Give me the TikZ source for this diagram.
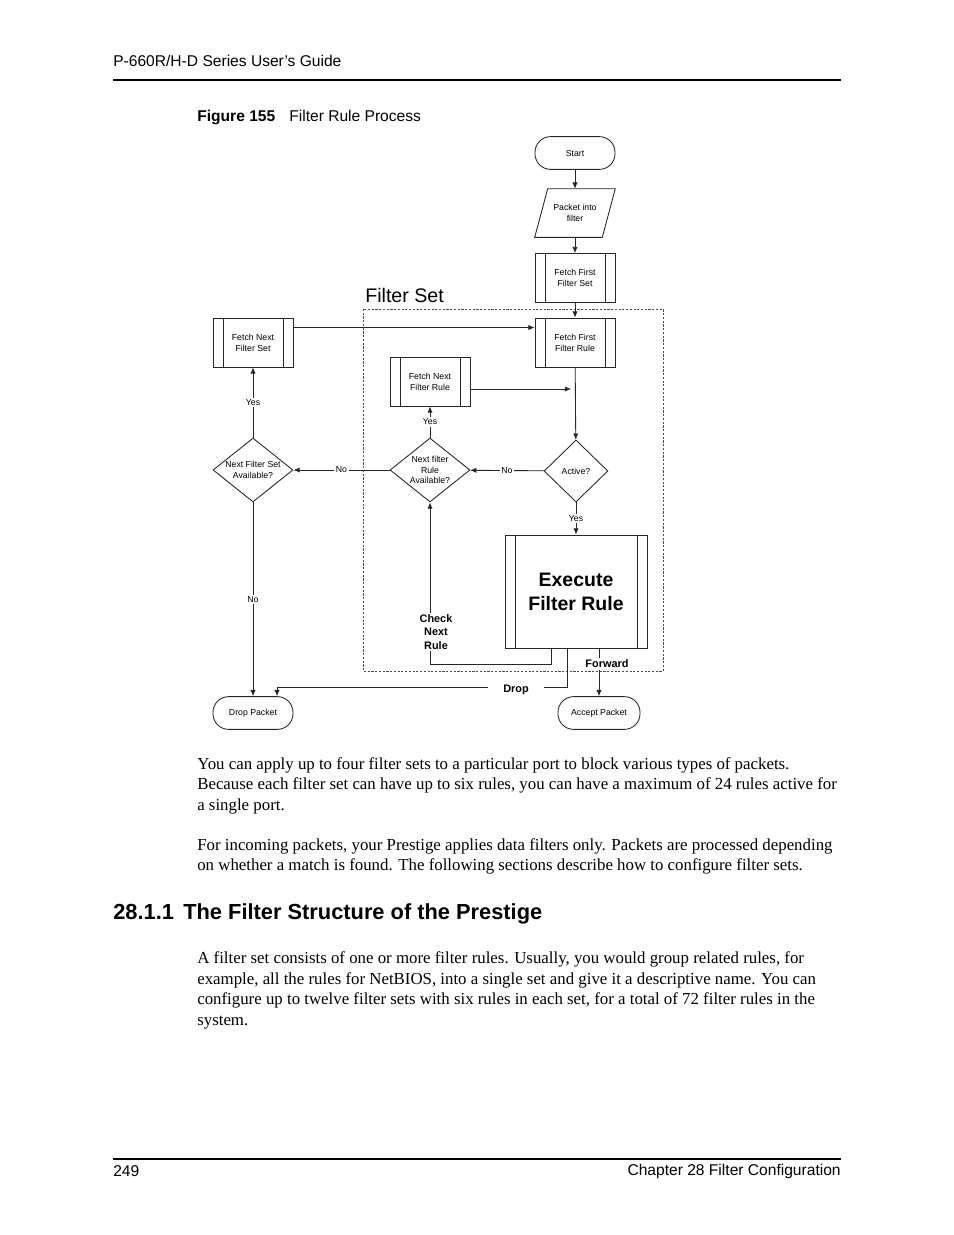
\documentclass[tikz,border=0pt]{standalone}
\usepackage{fontspec}
\setmainfont{Liberation Serif}
\setsansfont{Liberation Sans}
\usetikzlibrary{arrows.meta,calc,positioning,shapes.geometric}

\tikzset{
  flow/.style={draw=black!85,line width=.55pt},
  arr/.style={flow,-{Latex[length=4pt,width=3.4pt]}},
  small/.style={font=\sffamily\fontsize{5.6}{6.9}\selectfont},
  proc/.style={draw=black!85,line width=.55pt,small,align=center,inner sep=1pt,
    minimum width=51.3pt,minimum height=31.4pt,
    path picture={\draw[line width=.5pt]
      ([xshift=6.4pt]path picture bounding box.north west) -- ([xshift=6.4pt]path picture bounding box.south west)
      ([xshift=-6.4pt]path picture bounding box.north east) -- ([xshift=-6.4pt]path picture bounding box.south east);}},
  term/.style={draw=black!85,line width=.55pt,small,rounded corners=10pt,
    minimum width=51.3pt,minimum height=21pt},
  decide/.style={diamond,draw=black!85,line width=.55pt,inner sep=0pt},
  tag/.style={fill=white,inner sep=1pt,small},
  boldtag/.style={fill=white,inner sep=1pt,align=center,
    font=\sffamily\bfseries\fontsize{7}{8.6}\selectfont},
  bodyline/.style={anchor=base west,inner sep=0pt,font=\fontsize{10.8}{12}\selectfont}
}

\begin{document}
\begin{tikzpicture}[x=0.6415pt,y=-0.6415pt]
  \useasboundingbox[fill=white] (0,0) rectangle (954,1235);

  % page head and foot
  \node[anchor=west,inner sep=0pt,font=\sffamily\fontsize{10}{12}\selectfont] (head) at (113,61) {P-660R/H-D Series User’s Guide};
  \draw[line width=.7pt] (113,80) -- (841,80);
  \node[anchor=west,inner sep=0pt,font=\sffamily\fontsize{10}{12}\selectfont] (cap) at (197,117)
    {\textbf{Figure 155}\hspace{9pt}Filter Rule Process};
  \draw[line width=.7pt] (113,1159) -- (841,1159);
  \node[anchor=west,inner sep=0pt,font=\sffamily\fontsize{10}{12}\selectfont] (pgno) at (113,1171) {249};
  \node[anchor=east,inner sep=0pt,font=\sffamily\fontsize{10}{12}\selectfont] (chap) at (841,1171) {Chapter 28 Filter Configuration};

  % flowchart
  \draw[line width=.45pt,dash pattern=on 1.4pt off 1pt,draw=black!70] (363,309) rectangle (663,671);
  \node[anchor=west,inner sep=0pt,font=\sffamily\fontsize{12.6}{14}\selectfont] (setlbl) at (365,295) {Filter Set};

  \node[term] (start) at (575,153) {Start};
  \node[small,align=center,inner sep=1pt,minimum width=51.3pt,minimum height=30.8pt] (pkt) at (575,213) {Packet into\\filter};
  \draw[flow] ($(pkt.north west)+(13,0)$) -- (pkt.north east) -- ($(pkt.south east)+(-13,0)$) -- (pkt.south west) -- cycle;
  \node[proc] (firstset) at (575,278) {Fetch First\\Filter Set};
  \node[proc] (firstrule) at (575,342.5) {Fetch First\\Filter Rule};
  \node[proc] (nextset) at (253,342.5) {Fetch Next\\Filter Set};
  \node[proc] (nextrule) at (430,381.5) {Fetch Next\\Filter Rule};
  \node[decide,minimum width=41pt,minimum height=39.8pt,label={[small]center:Active?}] (active) at (576,471) {};
  \node[decide,minimum width=51.3pt,minimum height=41pt,label={[small,align=center]center:Next filter\\Rule\\Available?}] (rulenext) at (430,470) {};
  \node[decide,minimum width=51.3pt,minimum height=41pt,label={[small,align=center]center:Next Filter Set\\Available?}] (setnext) at (253,470) {};
  \node[proc,minimum width=91.1pt,minimum height=72.5pt,font=\sffamily\bfseries\fontsize{12.5}{15.4}\selectfont] (exec) at (576,591.5) {Execute\\Filter Rule};
  \node[term] (droppkt) at (253,713) {Drop Packet};
  \node[term,minimum width=52.6pt] (accpkt) at (599,713) {Accept Packet};
  \coordinate (join) at (575,389);

  \draw[arr] (start) -- (pkt);
  \draw[arr] (pkt) -- (firstset);
  \draw[arr] (firstset) -- (firstrule);
  \draw[arr] ([yshift=9.6pt]nextset.east) -- ([yshift=9.6pt]firstrule.west);
  \draw[arr] (firstrule) -- (active);
  \draw[arr,shorten >=2.5pt] (nextrule.east |- join) -- (join);
  \draw[arr] (active) -- node[tag] (no1) {No} (rulenext);
  \draw[arr] (rulenext) -- node[tag] (no2) {No} (setnext);
  \draw[arr] (rulenext) -- node[tag] (yes1) {Yes} (nextrule);
  \draw[arr] (setnext) -- node[tag] (yes2) {Yes} (nextset);
  \draw[arr] (active) -- node[tag] (yes3) {Yes} (exec);
  \draw[arr] (setnext) -- node[tag] (no3) {No} (droppkt);
  \draw[arr] ($(exec.south)+(-25,0)$) -- ++(0,16) -| (rulenext.south);
  \draw[arr] ($(exec.south)+(-9,0)$) -- ++(0,39) -| ($(droppkt.north)+(24,0)$);
  \draw[arr] (exec.south -| accpkt.north) -- (accpkt.north);
  \node[boldtag] (chk) at (436,632) {Check\\Next\\Rule};
  \node[boldtag,inner xsep=10pt] (drop) at (516,690) {Drop};
  \node[boldtag] (fwd) at (607,664) {Forward};

  % body text
  \node[bodyline] (p1a) at (197,769) {You can apply up to four filter sets to a particular port to block various types of packets.};
  \node[bodyline] (p1b) at (197,789) {Because each filter set can have up to six rules, you can have a maximum of 24 rules active for};
  \node[bodyline] (p1c) at (197,810) {a single port.};
  \node[bodyline] (p2a) at (197,850) {For incoming packets, your Prestige applies data filters only. Packets are processed depending};
  \node[bodyline] (p2b) at (197,870) {on whether a match is found. The following sections describe how to configure filter sets.};
  \node[anchor=west,inner sep=0pt,font=\sffamily\bfseries\fontsize{14}{16}\selectfont] (sec) at (113,914)
    {28.1.1\hspace{6pt}The Filter Structure of the Prestige};
  \node[bodyline] (p3a) at (197,963) {A filter set consists of one or more filter rules. Usually, you would group related rules, for};
  \node[bodyline] (p3b) at (197,984) {example, all the rules for NetBIOS, into a single set and give it a descriptive name. You can};
  \node[bodyline] (p3c) at (197,1004) {configure up to twelve filter sets with six rules in each set, for a total of 72 filter rules in the};
  \node[bodyline] (p3d) at (197,1025) {system.};
\end{tikzpicture}
\end{document}
